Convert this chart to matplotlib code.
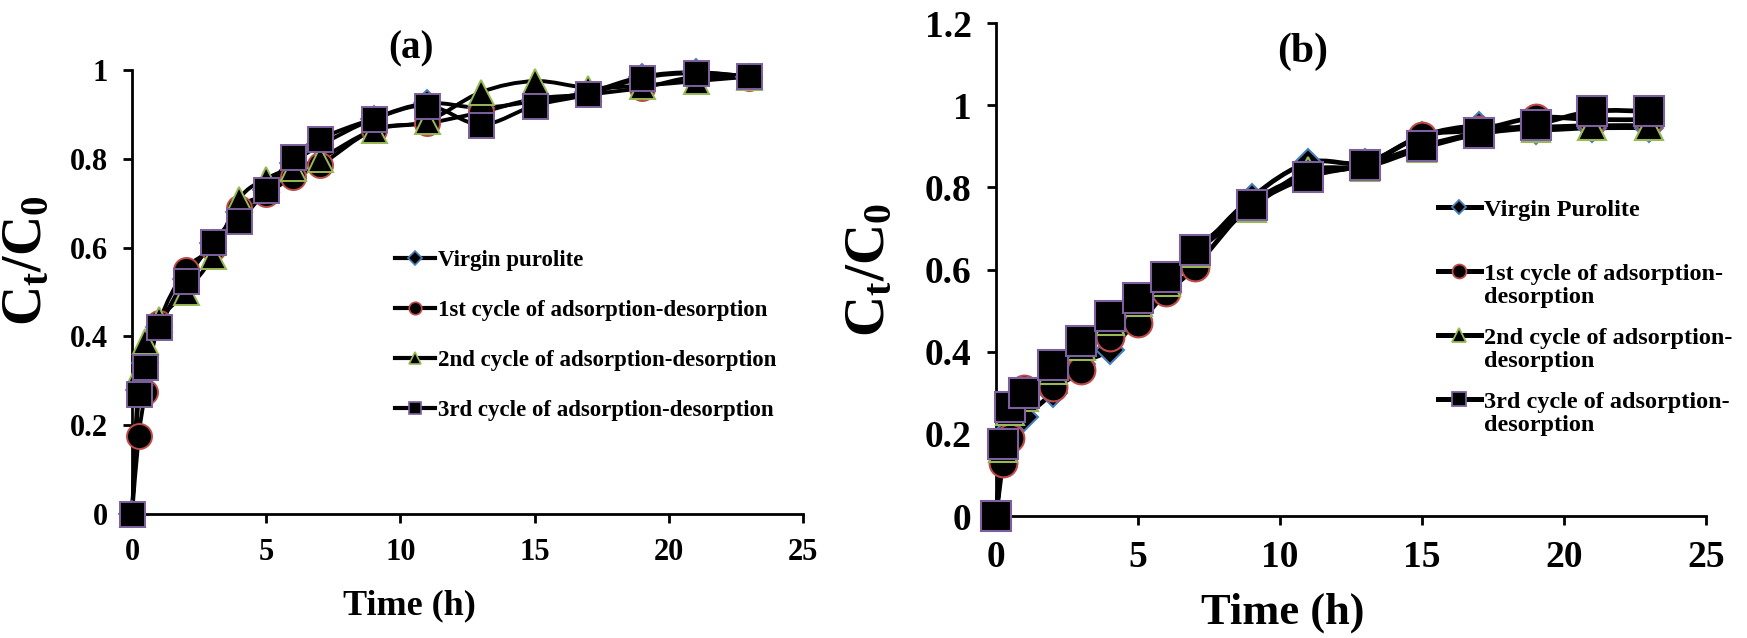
"""Breakthrough curves (Ct/C0 vs time) for virgin and regenerated purolite."""
import numpy as np
import matplotlib
matplotlib.use("Agg")
import matplotlib.pyplot as plt
from matplotlib.lines import Line2D
from matplotlib.path import Path
from matplotlib.patches import PathPatch
from matplotlib.legend_handler import HandlerLine2D

plt.rcParams["font.family"] = ["Liberation Serif", "DejaVu Serif"]
plt.rcParams["font.weight"] = "bold"
plt.rcParams["mathtext.fontset"] = "custom"
plt.rcParams["mathtext.rm"] = "Liberation Serif:bold"
plt.rcParams["mathtext.bf"] = "Liberation Serif:bold"
plt.rcParams["mathtext.it"] = "Liberation Serif:bold"

# sampling times (h)
time_h = [0, 0.25, 0.5, 1, 2, 3, 4, 5, 6, 7, 9, 11, 13, 15, 17, 19, 21, 23]

# panel (a)
a_virgin = [0, 0.28, 0.34, 0.42, 0.53, 0.61, 0.68, 0.73, 0.79, 0.83, 0.89, 0.925, 0.915, 0.93, 0.95, 0.985, 0.995, 0.985]
a_cycle1 = [0, 0.175, 0.275, 0.43, 0.55, 0.60, 0.69, 0.72, 0.76, 0.785, 0.865, 0.88, 0.905, 0.935, 0.945, 0.96, 0.985, 0.983]
a_cycle2 = [0, 0.32, 0.39, 0.44, 0.50, 0.58, 0.71, 0.755, 0.78, 0.80, 0.865, 0.885, 0.95, 0.975, 0.96, 0.965, 0.975, 0.985]
a_cycle3 = [0, 0.27, 0.33, 0.42, 0.525, 0.613, 0.66, 0.73, 0.805, 0.845, 0.89, 0.92, 0.877, 0.92, 0.945, 0.982, 0.993, 0.986]

# panel (b)
b_virgin = [0, 0.16, 0.21, 0.24, 0.30, 0.37, 0.405, 0.48, 0.56, 0.635, 0.775, 0.86, 0.86, 0.925, 0.95, 0.94, 0.945, 0.945]
b_cycle1 = [0, 0.13, 0.19, 0.31, 0.315, 0.355, 0.435, 0.47, 0.545, 0.605, 0.76, 0.83, 0.855, 0.925, 0.94, 0.97, 0.965, 0.965]
b_cycle2 = [0, 0.165, 0.255, 0.29, 0.355, 0.415, 0.475, 0.52, 0.57, 0.64, 0.75, 0.84, 0.85, 0.895, 0.93, 0.945, 0.95, 0.95]
b_cycle3 = [0, 0.175, 0.265, 0.30, 0.368, 0.425, 0.487, 0.53, 0.581, 0.647, 0.757, 0.825, 0.855, 0.90, 0.933, 0.953, 0.985, 0.985]

labels_a = ["Virgin purolite",
            "1st cycle of adsorption-desorption",
            "2nd cycle of adsorption-desorption",
            "3rd cycle of adsorption-desorption"]
labels_b = ["Virgin Purolite\n ",
            "1st cycle of adsorption-\ndesorption",
            "2nd cycle of adsorption-\ndesorption",
            "3rd cycle of adsorption-\ndesorption"]

markers = ["D", "o", "^", "s"]
edge_colors = ["#4A7EBB", "#BE4B48", "#98B954", "#7D60A0"]


def smooth_path(x, y):
    """Bezier path through the points, like a spreadsheet 'smoothed line'."""
    pts = np.column_stack([x, y]).astype(float)
    n = len(pts)
    verts = [pts[0]]
    codes = [Path.MOVETO]
    for i in range(n - 1):
        p0 = pts[i - 1] if i > 0 else pts[i]
        p1, p2 = pts[i], pts[i + 1]
        p3 = pts[i + 2] if i + 2 < n else pts[i + 1]
        verts += [p1 + (p2 - p0) / 6, p2 - (p3 - p1) / 6, p2]
        codes += [Path.CURVE4] * 3
    return Path(verts, codes)


class FirstLineHandler(HandlerLine2D):
    """Put the legend key next to the first line of a two-line label."""
    def __init__(self, shift=0.0, **kw):
        super().__init__(**kw)
        self.shift = shift

    def create_artists(self, legend, orig_handle, xdescent, ydescent,
                       width, height, fontsize, trans):
        arts = super().create_artists(legend, orig_handle, xdescent, ydescent,
                                      width, height, fontsize, trans)
        for a in arts:
            a.set_ydata(np.asarray(a.get_ydata()) + self.shift * fontsize)
        return arts


def draw_panel(ax, series, ms, lw, mew):
    for vals, mk, ec, size in zip(series, markers, edge_colors, ms):
        ax.add_patch(PathPatch(smooth_path(time_h, vals), facecolor="none",
                               edgecolor="black", lw=lw, capstyle="round",
                               joinstyle="round", zorder=2, clip_on=False))
        ax.plot(time_h, vals, ls="none", marker=mk, ms=size, mfc="black",
                mec=ec, mew=mew, zorder=3, clip_on=False)
    ax.set_xlim(0, 25)
    ax.set_xticks(range(0, 26, 5))
    for side in ("top", "right"):
        ax.spines[side].set_visible(False)
    for side in ("left", "bottom"):
        ax.spines[side].set_linewidth(2.0)
        ax.spines[side].set_color("black")
    ax.tick_params(direction="out", length=6.5, width=2.0, pad=11)


def legend_handles(lw, ms, mew):
    return [Line2D([], [], color="black", lw=lw, marker=mk, ms=s, mfc="black",
                   mec=ec, mew=mew)
            for mk, ec, s in zip(markers, edge_colors, ms)]


fig = plt.figure(figsize=(17.47, 6.38), dpi=100)
ax_a = fig.add_axes([0.0756, 0.1944, 0.3841, 0.6959])
ax_b = fig.add_axes([0.5701, 0.1912, 0.4064, 0.7727])

# (a)
draw_panel(ax_a, [a_virgin, a_cycle1, a_cycle2, a_cycle3],
           ms=[13, 18, 18, 18], lw=2.8, mew=1.4)
ax_a.set_ylim(0, 1)
ax_a.set_yticks([0, 0.2, 0.4, 0.6, 0.8, 1.0])
ax_a.set_yticklabels(["0", "0.2", "0.4", "0.6", "0.8", "1"])
ax_a.tick_params(labelsize=22)
ax_a.set_xlabel("Time (h)", fontsize=26, fontweight="bold")
ax_a.xaxis.set_label_coords(0.414, -0.17)
ax_a.set_ylabel(r"$\mathbf{C_t/C_0}$", fontsize=40)
ax_a.yaxis.set_label_coords(-0.118, 0.57)
ax_a.text(10.4, 1.048, "(a)", fontsize=28, fontweight="bold",
          ha="center", va="center", clip_on=False)
ax_a.legend(legend_handles(3.0, [7, 9, 9, 9], 1.2), labels_a,
            loc="upper left", bbox_to_anchor=(0.392, 0.595),
            frameon=False, fontsize=16.5, handlelength=1.75,
            handletextpad=0.1, labelspacing=1.27, borderpad=0,
            borderaxespad=0)

# (b)
draw_panel(ax_b, [b_virgin, b_cycle1, b_cycle2, b_cycle3],
           ms=[14, 20, 20, 21], lw=3.4, mew=1.5)
ax_b.set_ylim(0, 1.2)
ax_b.set_yticks([0, 0.2, 0.4, 0.6, 0.8, 1.0, 1.2])
ax_b.set_yticklabels(["0", "0.2", "0.4", "0.6", "0.8", "1", "1.2"])
ax_b.tick_params(labelsize=27)
ax_b.set_xlabel("Time (h)", fontsize=32, fontweight="bold")
ax_b.xaxis.set_label_coords(0.404, -0.155)
ax_b.set_ylabel(r"$\mathbf{C_t/C_0}$", fontsize=41)
ax_b.yaxis.set_label_coords(-0.141, 0.5)
ax_b.text(10.8, 1.13, "(b)", fontsize=30, fontweight="bold",
          ha="center", va="center")
leg_b = ax_b.legend(legend_handles(3.6, [7, 10, 10, 10], 1.3), labels_b,
                    loc="upper left", bbox_to_anchor=(0.622, 0.641),
                    frameon=False, fontsize=17.5, handlelength=1.8,
                    handletextpad=0.1, labelspacing=0.8, borderpad=0,
                    borderaxespad=0,
                    handler_map={Line2D: FirstLineHandler(shift=0.6)})
for t in leg_b.get_texts():
    t.set_linespacing(1.15)

fig.savefig("out.png", dpi=100)
